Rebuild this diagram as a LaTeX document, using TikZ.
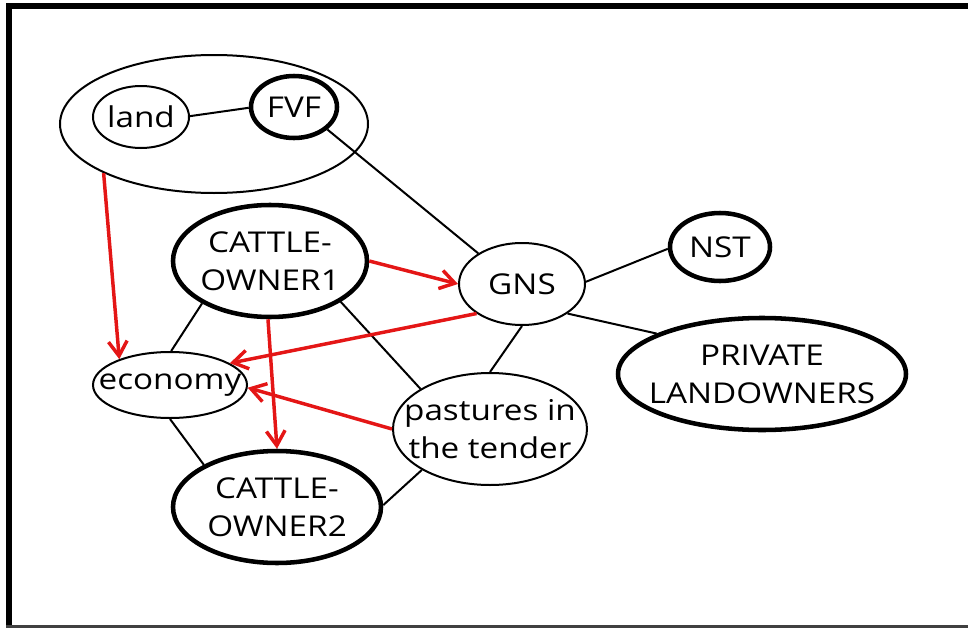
\documentclass[tikz,border=0pt]{standalone}
\usepackage{fontspec}
\setmainfont{Open Sans}[FakeStretch=1.16]
\usetikzlibrary{shapes.geometric,arrows.meta}
\definecolor{linkred}{RGB}{228,22,22}
\begin{document}
\begin{tikzpicture}[x=0.75pt,y=-0.75pt,
  oval/.style 2 args={ellipse,draw,inner sep=0pt,
    minimum width=#1*1.5pt,minimum height=#2*1.5pt},
  plainedge/.style={line width=1.5pt},
  boldedge/.style={line width=3.4pt},
  lbl/.style={font=\fontsize{21.5}{28.5}\selectfont,align=center,inner sep=0pt},
  link/.style={line width=1.5pt},
  flow/.style={draw=linkred,line width=2.6pt,
    -{Straight Barb[length=11pt,width=14pt]}}]

\useasboundingbox (0,0) rectangle (968,628);

% frame
\draw[line width=4.5pt] (9,3) -- (9,628);
\draw[line width=4.5pt] (6,6) -- (968,6);
\draw[line width=2.5pt,black!75] (6,626.5) -- (968,626.5);

% ellipses
\node[oval={154}{69},plainedge] (grp)  at (214,124) {};
\node[oval={48}{31},plainedge]  (land) at (141,117) {};
\node[oval={43}{31},boldedge]   (fvf)  at (294,107) {};
\node[oval={97}{56},boldedge]   (c1)   at (270,261) {};
\node[oval={63}{41},plainedge]  (gns)  at (522,284) {};
\node[oval={50}{34},boldedge]   (nst)  at (720,247) {};
\node[oval={144}{56},boldedge]  (priv) at (762,374) {};
\node[oval={77}{33},plainedge]  (eco)  at (170,385) {};
\node[oval={97}{56},plainedge]  (past) at (490,429) {};
\node[oval={104}{56},boldedge]  (c2)   at (277,507) {};

% labels
\node[lbl] (land-t) at (land) {land};
\node[lbl] (fvf-t)  at (fvf)  {FVF};
\node[lbl] (c1-t)   at (c1)   {CATTLE-\\OWNER1};
\node[lbl] (gns-t)  at (gns)  {GNS};
\node[lbl] (nst-t)  at (nst)  {NST};
\node[lbl] (priv-t) at (priv) {PRIVATE\\LANDOWNERS};
\node[lbl] (eco-t)  at (eco)  {economy};
\node[lbl] (past-t) at (past) {pastures in\\the tender};
\node[lbl] (c2-t)   at (c2)   {CATTLE-\\OWNER2};

% plain links
\draw[link] (land.1)  -- (fvf.181);
\draw[link] (fvf.326) -- (gns.145);
\draw[link] (gns.2)   -- (nst.182);
\draw[link] (gns.327) -- (priv.159);
\draw[link] (gns.270) -- (past.90);
\draw[link] (c1.212)  -- (eco.88);
\draw[link] (c1.330)  -- (past.150);
\draw[link] (eco.270) -- (c2.150);
\draw[link] (past.211) -- (c2.1);

% influence arrows
\draw[flow] (grp.204)  -- (eco.153);
\draw[flow] (c1.0)     -- (gns.180);
\draw[flow] (c1.268)   -- (c2.90);
\draw[flow] (gns.213)  -- (eco.20);
\draw[flow] (past.180) -- (eco.358);
\end{tikzpicture}
\end{document}
